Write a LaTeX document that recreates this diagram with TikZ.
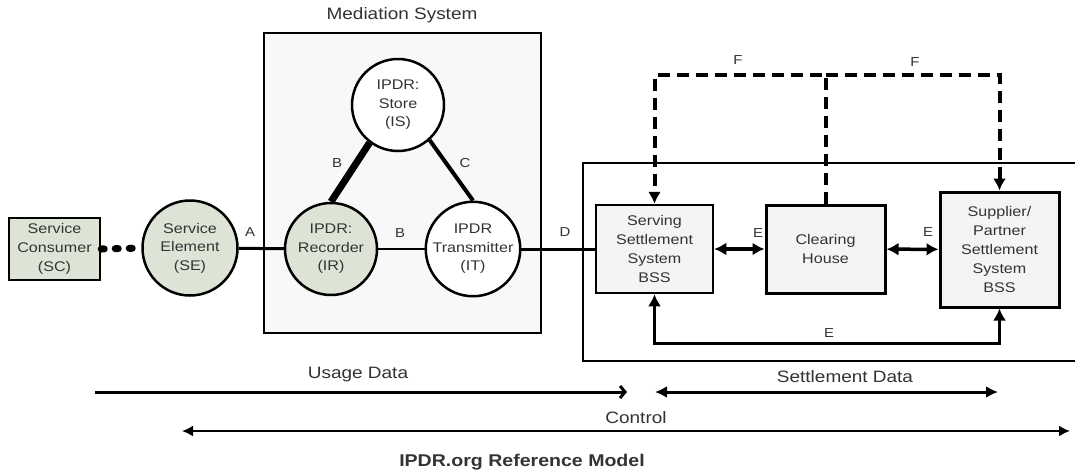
\documentclass[tikz,border=0pt]{standalone}
\usepackage{fontspec}
\setmainfont{Liberation Sans}[FakeStretch=1.15]
\usetikzlibrary{arrows.meta}
\definecolor{sgreen}{HTML}{DDE4D5}
\definecolor{boxgray}{HTML}{F4F4F4}
\definecolor{medgray}{HTML}{F8F8F8}
\definecolor{txt}{HTML}{333333}

\begin{document}
\begin{tikzpicture}[x=1pt,y=-1pt,
  ent/.style={circle,draw,line width=2.5pt,fill=white,minimum size=92pt,inner sep=0pt,align=center,text=txt,font=\fontsize{14}{18.5}\selectfont},
  sysbox/.style={rectangle,draw,line width=2.5pt,fill=boxgray,inner sep=0pt,align=center,text=txt,font=\fontsize{14}{18.8}\selectfont},
  lbl/.style={text=txt,font=\fontsize{13}{15}\selectfont},
  big/.style={text=txt,font=\fontsize{16.5}{19}\selectfont},
  elink/.style={line width=3.5pt,{Latex[length=12pt,width=13pt]}-{Latex[length=12pt,width=13pt]}},
  flink/.style={line width=4pt,dash pattern=on 12pt off 7pt,-{Latex[length=12pt,width=13pt]}}]

\fill[white] (0,0) rectangle (1075,472);
\useasboundingbox (0,0) rectangle (1075,472);

% mediation system
\node[draw,line width=2.5pt,fill=medgray,minimum width=277pt,minimum height=300pt] (med) at (402.5,183) {};
\node[big] (medt) at (402,15) {Mediation System};

% settlement domain
\draw[line width=2pt] (1080,163) -| (583,361) -- (1080,361);

\node[sysbox,minimum width=91pt,minimum height=62pt,fill=sgreen] (sc) at (54.5,249) {Service\\Consumer\\(SC)};
\node[ent,fill=sgreen,minimum size=95pt] (se) at (190,248) {Service\\Element\\(SE)};
\node[ent] (is) at (398,105) {IPDR:\\Store\\(IS)};
\node[ent,fill=sgreen] (ir) at (331,249) {IPDR:\\Recorder\\(IR)};
\node[ent] (it) at (473,249) {IPDR\\Transmitter\\(IT)};

\node[sysbox,minimum width=117pt,minimum height=88pt] (serv) at (654.5,249) {Serving\\Settlement\\System\\BSS};
\node[sysbox,line width=3pt,minimum width=119pt,minimum height=88pt] (clear) at (825.5,249) {Clearing\\House};
\node[sysbox,line width=3pt,minimum width=119pt,minimum height=115pt] (supp) at (999.5,249.5) {Supplier/\\Partner\\Settlement\\System\\BSS};

\draw[line width=7pt,line cap=round,dash pattern=on 3pt off 11pt] (sc.east) -- (se.west);
\draw[line width=3pt] (se) -- (ir);
\draw[line width=7pt] (is.233) -- (ir.north);
\draw[line width=4pt] (is.312) -- (it.north);
\draw[line width=2.5pt] (ir) -- (it);
\draw[line width=3pt] (it) -- (serv);

\draw[elink] (serv) -- (clear);
\draw[elink] (clear) -- (supp);
\draw[elink] (serv.south) -- ++(0,49) -| (supp.south);
\draw[flink] (clear.north) -- ++(0,-129) coordinate (ftop) -| (serv.north);
\draw[flink] (ftop) -| (supp.north);

\node[lbl] (la) at (250,232) {A};
\node[lbl] (lb1) at (337,163) {B};
\node[lbl] (lc) at (465,163) {C};
\node[lbl] (lb2) at (400,233) {B};
\node[lbl] (ld) at (565,232) {D};
\node[lbl] (le1) at (758,233) {E};
\node[lbl] (le2) at (928,232) {E};
\node[lbl] (le3) at (829,333) {E};
\node[lbl] (lf1) at (738,60) {F};
\node[lbl] (lf2) at (915,62) {F};

% data flows
\coordinate (u1) at (95,392);  \coordinate (u2) at (627,392);
\coordinate (s1) at (655,392); \coordinate (s2) at (998,392);
\coordinate (c1) at (182,431); \coordinate (c2) at (1070,431);
\draw[line width=3pt,-{Straight Barb[length=5pt,width=12pt]}] (u1) -- (u2);
\draw[line width=3pt,{Latex[length=12pt,width=12pt]}-{Latex[length=12pt,width=12pt]}] (s1) -- (s2);
\draw[line width=2pt,{Latex[length=11pt,width=11pt]}-{Latex[length=11pt,width=11pt]}] (c1) -- (c2);
\node[big] (usage) at (358,375) {Usage Data};
\node[big] (settle) at (845,377) {Settlement Data};
\node[big] (ctrl) at (636,418) {Control};
\node[big,font=\fontsize{17}{19}\bfseries] (title) at (522,462) {IPDR.org Reference Model};
\end{tikzpicture}
\end{document}
